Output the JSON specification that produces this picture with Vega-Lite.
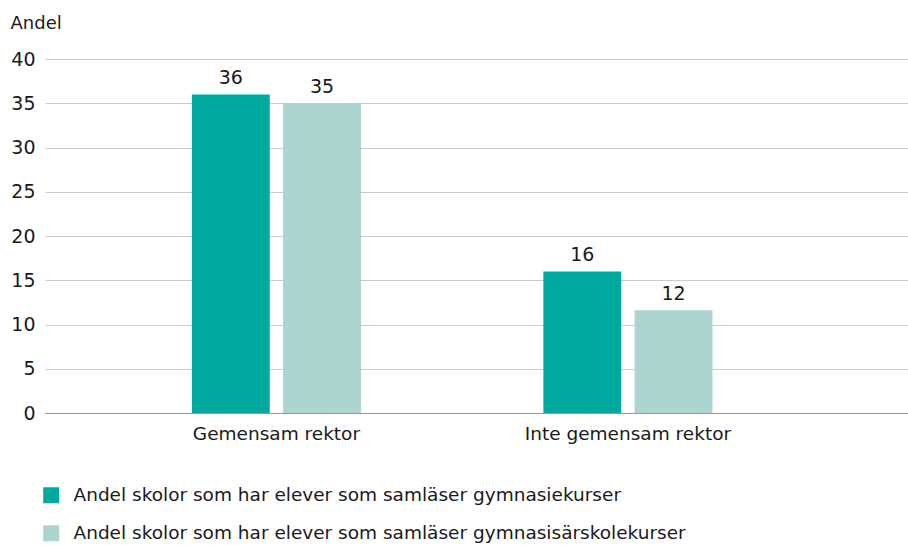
{
  "$schema": "https://vega.github.io/schema/vega-lite/v6.json",
  "autosize": {"type": "none"},
  "width": 863,
  "height": 354,
  "padding": {"left": 45, "top": 59, "right": 0, "bottom": 132},
  "background": "white",
  "config": {
    "font": "DejaVu Sans",
    "view": {"stroke": null},
    "axis": {"labelFont": "DejaVu Sans", "titleFont": "DejaVu Sans", "labelColor": "#1a1a1a", "titleColor": "#1a1a1a"},
    "legend": {"labelFont": "DejaVu Sans"}
  },
  "data": {
    "values": [
      {"grupp": "Gemensam rektor", "serie": "Andel skolor som har elever som samläser gymnasiekurser", "andel": 36, "etikett": "36"},
      {"grupp": "Gemensam rektor", "serie": "Andel skolor som har elever som samläser gymnasisärskolekurser", "andel": 35, "etikett": "35"},
      {"grupp": "Inte gemensam rektor", "serie": "Andel skolor som har elever som samläser gymnasiekurser", "andel": 16, "etikett": "16"},
      {"grupp": "Inte gemensam rektor", "serie": "Andel skolor som har elever som samläser gymnasisärskolekurser", "andel": 11.6, "etikett": "12"}
    ]
  },
  "encoding": {
    "x": {
      "field": "grupp",
      "type": "nominal",
      "sort": null,
      "scale": {"paddingInner": 0, "paddingOuter": 0.2276, "align": 0.348},
      "axis": {
        "title": null,
        "labelAngle": 0,
        "ticks": false,
        "domain": true,
        "domainColor": "#999999",
        "domainWidth": 1,
        "labelFontSize": 18.5,
        "labelPadding": 11,
        "labelLimit": 400
      }
    },
    "xOffset": {
      "field": "serie",
      "type": "nominal",
      "sort": null,
      "scale": {"paddingInner": 0.146, "paddingOuter": 1.0475}
    },
    "y": {
      "field": "andel",
      "type": "quantitative",
      "scale": {"domain": [0, 40]},
      "axis": {
        "values": [0, 5, 10, 15, 20, 25, 30, 35, 40],
        "title": "Andel",
        "titleAngle": 0,
        "titleAlign": "left",
        "titleBaseline": "alphabetic",
        "titleX": -35,
        "titleY": -31,
        "titleFontSize": 18,
        "titleFontWeight": "normal",
        "domain": false,
        "ticks": false,
        "grid": true,
        "gridColor": "#cccccc",
        "gridWidth": 1,
        "labelFontSize": 19,
        "labelPadding": 10
      }
    }
  },
  "layer": [
    {
      "mark": {"type": "bar"},
      "encoding": {
        "color": {
          "field": "serie",
          "type": "nominal",
          "sort": null,
          "scale": {
            "domain": ["Andel skolor som har elever som samläser gymnasiekurser", "Andel skolor som har elever som samläser gymnasisärskolekurser"],
            "range": ["#00A99D", "#ACD5D0"]
          },
          "legend": {
            "title": null,
            "orient": "none",
            "legendX": -3,
            "legendY": 427,
            "direction": "vertical",
            "symbolType": "square",
            "symbolSize": 256,
            "symbolStrokeWidth": 0,
            "labelFontSize": 18.5,
            "labelColor": "#1a1a1a",
            "labelOffset": 13,
            "rowPadding": 19,
            "labelLimit": 800
          }
        }
      }
    },
    {
      "mark": {"type": "text", "baseline": "alphabetic", "dy": -10, "fontSize": 19, "color": "#1a1a1a"},
      "encoding": {
        "text": {"field": "etikett"}
      }
    }
  ]
}
